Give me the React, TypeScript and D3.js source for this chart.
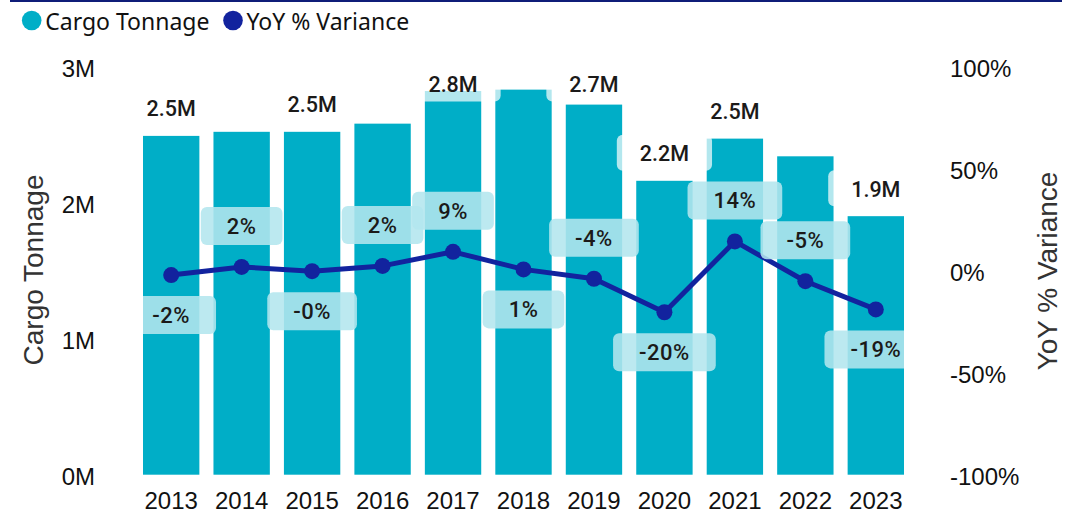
import React, { useRef, useEffect } from "react";
import * as d3 from "d3";

const years = ["2013", "2014", "2015", "2016", "2017", "2018", "2019", "2020", "2021", "2022", "2023"];
const cargoTonnage = [2.49e6, 2.52e6, 2.52e6, 2.58e6, 2.82e6, 2.83e6, 2.72e6, 2.16e6, 2.47e6, 2.34e6, 1.9e6];
const yoyVariance = [-2.2, 1.8, -0.3, 2.3, 9.2, 0.6, -4.0, -20.4, 14.3, -5.2, -19.0];
const cargoLabels = ["2.5M", "", "2.5M", "", "2.8M", "", "2.7M", "2.2M", "2.5M", "", "1.9M"];
const yoyLabels = ["-2%", "2%", "-0%", "2%", "9%", "1%", "-4%", "-20%", "14%", "-5%", "-19%"];
const yoyLabelSide = ["below", "above", "below", "above", "above", "below", "above", "below", "above", "above", "below"];
const cargoTicks = [0, 1e6, 2e6, 3e6];
const yoyTicks = [-100, -50, 0, 50, 100];

const BAR = "#00AEC7";
const LINE = "#12239E";
const TEXT = "#1B1A19";

const App = () => {
    const svgRef = useRef<SVGSVGElement | null>(null);

    useEffect(() => {
        if (!svgRef.current) return;
        const svg = d3.select(svgRef.current);
        svg.selectAll("*").remove();

        const width = 1068;
        const height = 513;
        const plotLeft = 143, plotRight = 904, plotTop = 66.5, plotBottom = 474.7;

        const x = d3.scaleBand().domain(years).range([plotLeft, plotRight]).paddingInner(0.2).paddingOuter(0);
        const yL = d3.scaleLinear().domain([0, 3e6]).range([plotBottom, plotTop]);
        const yR = d3.scaleLinear().domain([-100, 100]).range([plotBottom, plotTop]);
        const cx = (i) => (x(years[i]) as number) + x.bandwidth() / 2;

        svg.attr("width", width).attr("height", height).style("background", "white");

        svg.append("defs").append("clipPath").attr("id", "plot-clip")
            .append("rect").attr("x", plotLeft).attr("y", 0).attr("width", plotRight - plotLeft).attr("height", height);

        // top rule
        svg.append("rect").attr("x", 10).attr("y", 0).attr("width", 1052).attr("height", 2).attr("fill", "#0F1D78");

        // legend
        const legendData = [
            { label: "Cargo Tonnage", color: BAR, x: 31.7 },
            { label: "YoY % Variance", color: LINE, x: 233 }
        ];
        const legend = svg.selectAll(".legend").data(legendData).enter().append("g").attr("class", "legend");
        legend.append("circle").attr("cx", d => d.x).attr("cy", 20.5).attr("r", 9.8).attr("fill", d => d.color);
        legend.append("text")
            .attr("x", d => d.x + 13.5).attr("y", 29.5)
            .style("font-family", "'Noto Sans', 'Open Sans', sans-serif")
            .style("font-size", "23px").style("fill", "#111")
            .text(d => d.label);

        // left axis
        svg.append("g").selectAll("text").data(cargoTicks).enter().append("text")
            .attr("x", 95).attr("y", d => yL(d) + 2)
            .attr("text-anchor", "end").attr("dominant-baseline", "central")
            .style("font-family", "'Liberation Sans', Arial, sans-serif").style("font-size", "24px").style("fill", "#111")
            .text(d => `${d / 1e6}M`);

        svg.append("text")
            .attr("transform", `translate(33,270) rotate(-90)`)
            .attr("text-anchor", "middle").attr("dominant-baseline", "central")
            .style("font-family", "'Liberation Sans', Arial, sans-serif").style("font-size", "28px").style("fill", "#333")
            .text("Cargo Tonnage");

        // right axis
        svg.append("g").selectAll("text").data(yoyTicks).enter().append("text")
            .attr("x", 950).attr("y", d => yR(d) + 2)
            .attr("dominant-baseline", "central")
            .style("font-family", "'Liberation Sans', Arial, sans-serif").style("font-size", "24px").style("fill", "#111")
            .text(d => `${d}%`);

        svg.append("text")
            .attr("transform", `translate(1047,271) rotate(-90)`)
            .attr("text-anchor", "middle").attr("dominant-baseline", "central")
            .style("font-family", "'Liberation Sans', Arial, sans-serif").style("font-size", "28px").style("fill", "#333")
            .text("YoY % Variance");

        // x axis labels
        svg.append("g").selectAll("text").data(years).enter().append("text")
            .attr("x", d => (x(d) as number) + x.bandwidth() / 2).attr("y", 500)
            .attr("text-anchor", "middle").attr("dominant-baseline", "central")
            .style("font-family", "'Liberation Sans', Arial, sans-serif").style("font-size", "24px").style("fill", "#111")
            .text(d => d);

        // bars
        svg.append("g").selectAll("rect").data(cargoTonnage).enter().append("rect")
            .attr("x", (d, i) => x(years[i]) as number)
            .attr("y", d => yL(d))
            .attr("width", x.bandwidth())
            .attr("height", d => plotBottom - yL(d))
            .attr("fill", BAR);

        // bar labels with translucent backgrounds
        const barBoxLayer = svg.append("g").attr("clip-path", "url(#plot-clip)");
        const barLabelLayer = svg.append("g");
        cargoTonnage.forEach((v, i) => {
            if (!cargoLabels[i]) return;
            const ty = Math.max(yL(v) - 27, plotTop + 18);
            const t = barLabelLayer.append("text")
                .attr("x", cx(i)).attr("y", ty)
                .attr("text-anchor", "middle").attr("dominant-baseline", "central")
                .style("font-family", "Roboto, sans-serif").style("font-size", "21.5px").style("font-weight", 500)
                .style("fill", TEXT)
                .text(cargoLabels[i]);
            const w = (t.node() as SVGTextElement).getComputedTextLength() + 46;
            barBoxLayer.append("rect")
                .attr("x", cx(i) - w / 2).attr("y", ty - 19).attr("width", w).attr("height", 36)
                .attr("rx", 6).attr("fill", "white").attr("fill-opacity", 0.7);
        });

        // line + markers
        const line = d3.line<number>()
            .x((d, i) => cx(i))
            .y(d => yR(d));

        svg.append("path")
            .datum(yoyVariance)
            .attr("fill", "none")
            .attr("stroke", LINE)
            .attr("stroke-width", 5)
            .attr("stroke-linejoin", "round")
            .attr("d", line);

        svg.append("g").selectAll("circle").data(yoyVariance).enter().append("circle")
            .attr("cx", (d, i) => cx(i)).attr("cy", d => yR(d)).attr("r", 8).attr("fill", LINE);

        // yoy labels
        const yoyBoxLayer = svg.append("g").attr("clip-path", "url(#plot-clip)");
        const yoyTextLayer = svg.append("g");
        yoyVariance.forEach((v, i) => {
            const ty = yR(v) + (yoyLabelSide[i] === "above" ? -40.5 : 40.5);
            const t = yoyTextLayer.append("text")
                .attr("x", cx(i)).attr("y", ty)
                .attr("text-anchor", "middle").attr("dominant-baseline", "central")
                .style("font-family", "Roboto, sans-serif").style("font-size", "22px").style("font-weight", 500)
                .style("letter-spacing", "0.5px").style("fill", TEXT)
                .text(yoyLabels[i]);
            const w = (t.node() as SVGTextElement).getComputedTextLength() + 52;
            yoyBoxLayer.append("rect")
                .attr("x", cx(i) - w / 2).attr("y", ty - 19.5).attr("width", w).attr("height", 38)
                .attr("rx", 6).attr("fill", "#B3E6EE").attr("fill-opacity", 0.88);
        });
    }, []);

    return (
        <div style={{ position: "absolute", left: 0, top: 0 }}>
            <svg ref={svgRef}></svg>
        </div>
    );
};

export default App;
